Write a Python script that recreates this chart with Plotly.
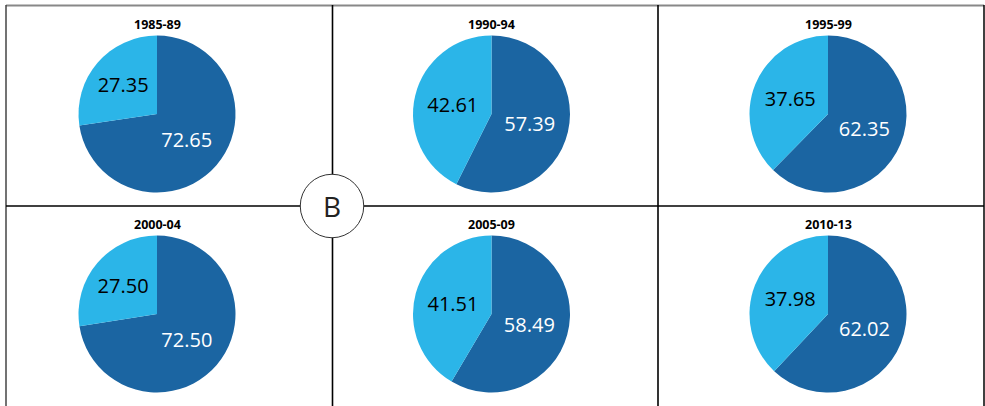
import plotly.graph_objects as go

periods = ["1985-89", "1990-94", "1995-99", "2000-04", "2005-09", "2010-13"]
dark_values = [72.65, 57.39, 62.35, 72.50, 58.49, 62.02]
light_values = [27.35, 42.61, 37.65, 27.50, 41.51, 37.98]
value_labels_dark = ["72.65", "57.39", "62.35", "72.50", "58.49", "62.02"]
value_labels_light = ["27.35", "42.61", "37.65", "27.50", "41.51", "37.98"]

W, H = 985, 406
DARK = "#1b65a2"
LIGHT = "#2bb5e8"

def px_x(x):
    return x / W

def px_y(y):
    return 1 - y / H

centers_x = [157, 491.5, 828]
centers_y = [114, 314]
R = 78.5
title_y = [24, 224]

fig = go.Figure()
annotations = []
for i, period in enumerate(periods):
    row, col = divmod(i, 3)
    cx, cy = centers_x[col], centers_y[row]
    fig.add_trace(go.Pie(
        values=[dark_values[i], light_values[i]],
        labels=["A", "B"],
        text=[value_labels_dark[i], value_labels_light[i]],
        textinfo="text",
        textposition="inside",
        insidetextorientation="horizontal",
        sort=False,
        direction="clockwise",
        rotation=0,
        marker=dict(colors=[DARK, LIGHT], line=dict(width=0)),
        textfont=dict(family="Open Sans", size=20, color=["white", "black"]),
        domain=dict(x=[px_x(cx - R), px_x(cx + R)], y=[px_y(cy + R), px_y(cy - R)]),
        showlegend=False,
        hoverinfo="skip",
    ))
    annotations.append(dict(
        x=px_x(cx), y=px_y(title_y[row]), xref="paper", yref="paper",
        text="<b>" + period + "</b>", showarrow=False,
        font=dict(family="Open Sans", size=12.5, color="black"),
        xanchor="center", yanchor="middle",
    ))

annotations.append(dict(
    x=px_x(332), y=px_y(206), xref="paper", yref="paper",
    text="B", showarrow=False,
    font=dict(family="Open Sans", size=28, color="#222222"),
    xanchor="center", yanchor="middle",
))

shapes = []
def line(x0, y0, x1, y1, color="black", width=1.6):
    shapes.append(dict(type="line", xref="paper", yref="paper",
                       x0=px_x(x0), y0=px_y(y0), x1=px_x(x1), y1=px_y(y1),
                       line=dict(color=color, width=width)))

line(6, 5.5, 984, 5.5, color="#888888", width=2)
line(6, 5, 6, 406, color="#444444", width=1.5)
line(984, 5, 984, 406, color="black", width=1.5)
line(6, 206, 984, 206)
line(332.5, 5, 332.5, 406)
line(658, 5, 658, 406)
shapes.append(dict(type="circle", xref="paper", yref="paper",
                   x0=px_x(332 - 31.75), x1=px_x(332 + 31.75),
                   y0=px_y(206 + 31.75), y1=px_y(206 - 31.75),
                   fillcolor="white", line=dict(color="#333333", width=1)))

fig.update_layout(
    width=W, height=H,
    margin=dict(l=0, r=0, t=0, b=0),
    paper_bgcolor="white",
    plot_bgcolor="white",
    shapes=shapes,
    annotations=annotations,
)

fig.write_html(
    "out.html",
    config={"displayModeBar": False},
    post_script="document.body.style.margin='0';document.body.style.overflow='hidden';",
)
